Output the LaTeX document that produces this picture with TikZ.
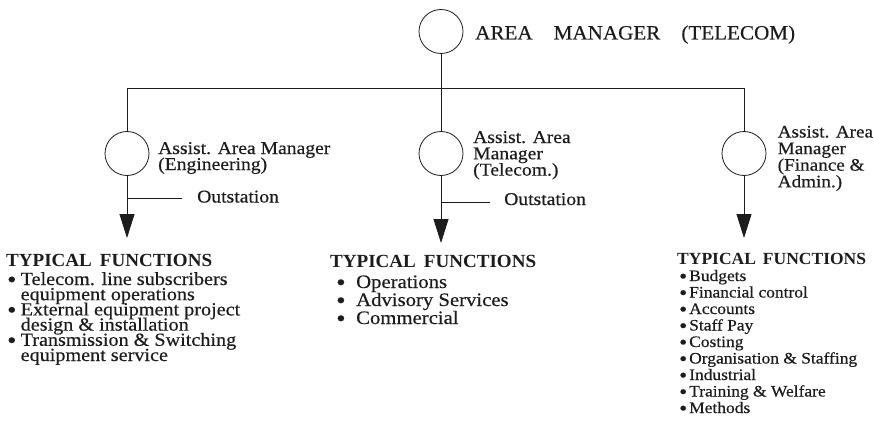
\documentclass[tikz,border=0pt]{standalone}
\usepackage{fontspec}
\usepackage{graphicx}
\setmainfont{Liberation Serif}
\newfontfamily\titlefont[FakeStretch=1.04,FakeBold=0.4]{Liberation Serif}
\newfontfamily\bodyfont[FakeStretch=1.09,FakeBold=0.4]{Liberation Serif}
\newfontfamily\headfont[FakeStretch=1.03]{Liberation Serif}
\usetikzlibrary{arrows.meta}

% a block of lines with a fixed baseline distance; its baseline is that of the first line
\newcommand\stackedlines[2]{\vtop{\baselineskip=#1\lineskiplimit=-\maxdimen\lineskip=0pt #2}}
% a list bullet sitting at mid x-height, taking no vertical room
\newcommand\itembullet[1]{\makebox[#1][l]{\smash{\raisebox{-0.13em}{\scalebox{1.3}{\textbullet}}}}}

\definecolor{ink}{HTML}{1C1C1C}

\tikzset{
  mgr/.style={circle, draw=ink, line width=0.8pt, minimum size=44pt, inner sep=0pt},
  txt/.style={anchor=base west, inner sep=0pt, text=ink},
  link/.style={draw=ink, line width=0.8pt},
  arr/.style={link, -{Triangle[length=24pt,width=15pt]}},
  labelfont/.style={font=\bodyfont\fontsize{18}{18}\selectfont},
  headfontstyle/.style={font=\headfont\bfseries\fontsize{18.5}{20}\selectfont},
}

\begin{document}
\begin{tikzpicture}[x=1pt,y=-1pt]
\useasboundingbox (0,0) rectangle (874,433);

% managers
\node[mgr] (area) at (441,31.5) {};
\node[mgr] (eng) at (127,153.5) {};
\node[mgr] (tel) at (441,153.5) {};
\node[mgr] (fin) at (744,153.5) {};

% junctions on the distribution bar
\coordinate (jl) at (127,88);
\coordinate (jc) at (441,88);
\coordinate (jr) at (744,88);

\draw[link] (area) -- (jc);
\draw[link] (jl) -- (jr);
\draw[link] (jl) -- (eng);
\draw[link] (jc) -- (tel);
\draw[link] (jr) -- (fin);

% arrows to the function lists
\coordinate (engtip) at (127,238);
\coordinate (teltip) at (441,243);
\coordinate (fintip) at (744,238);
\draw[arr] (eng) -- (engtip);
\draw[arr] (tel) -- (teltip);
\draw[arr] (fin) -- (fintip);

% outstation branches
\coordinate (engout) at (127,198);
\coordinate (engoutend) at (182,198);
\coordinate (telout) at (441,202);
\coordinate (teloutend) at (490,202);
\draw[link] (engout) -- (engoutend);
\draw[link] (telout) -- (teloutend);
\node[txt, labelfont] (engos) at (197,202.5) {Outstation};
\node[txt, labelfont] (telos) at (504,205) {Outstation};

% title
\node[txt, font=\titlefont\fontsize{20.3}{21}\selectfont] (title) at (475,39.5)
  {AREA\hspace{21pt}MANAGER\hspace{21pt}(TELECOM)};

% manager labels
\node[txt, labelfont] (englab) at (158,154)
  {\stackedlines{16pt}{\hbox{Assist. Area Manager}\hbox{(Engineering)}}};
\node[txt, labelfont] (tellab) at (473,143)
  {\stackedlines{16.3pt}{\hbox{Assist. Area}\hbox{Manager}\hbox{(Telecom.)}}};
\node[txt, font=\bodyfont\fontsize{17.6}{18}\selectfont] (finlab) at (777.5,137.5)
  {\stackedlines{16.6pt}{\hbox{Assist. Area}\hbox{Manager}\hbox{(Finance \&}\hbox{Admin.)}}};

% function lists
\node[txt, headfontstyle] (enghead) at (6,266) {TYPICAL\hspace{8pt}FUNCTIONS};
\node[txt, font=\bodyfont\fontsize{18.5}{18}\selectfont] (englist) at (7,285)
  {\stackedlines{15.2pt}{%
    \hbox{\itembullet{13.5pt}Telecom. line subscribers}%
    \hbox{\hspace{13.5pt}equipment operations}%
    \hbox{\itembullet{13.5pt}External equipment project}%
    \hbox{\hspace{13.5pt}design \& installation}%
    \hbox{\itembullet{13.5pt}Transmission \& Switching}%
    \hbox{\hspace{13.5pt}equipment service}}};

\node[txt, headfontstyle] (telhead) at (330,267) {TYPICAL\hspace{8pt}FUNCTIONS};
\node[txt, font=\bodyfont\fontsize{19}{18}\selectfont] (tellist) at (336,288)
  {\stackedlines{18pt}{%
    \hbox{\itembullet{20pt}Operations}%
    \hbox{\itembullet{20pt}Advisory Services}%
    \hbox{\itembullet{20pt}Commercial}}};

\node[txt, font=\headfont\bfseries\fontsize{17}{18}\selectfont] (finhead) at (677,264)
  {TYPICAL\hspace{7pt}FUNCTIONS};
\node[txt, font=\bodyfont\fontsize{16}{16}\selectfont] (finlist) at (679,281)
  {\stackedlines{16.5pt}{%
    \hbox{\itembullet{10pt}Budgets}%
    \hbox{\itembullet{10pt}Financial control}%
    \hbox{\itembullet{10pt}Accounts}%
    \hbox{\itembullet{10pt}Staff Pay}%
    \hbox{\itembullet{10pt}Costing}%
    \hbox{\itembullet{10pt}Organisation \& Staffing}%
    \hbox{\itembullet{10pt}Industrial}%
    \hbox{\itembullet{10pt}Training \& Welfare}%
    \hbox{\itembullet{10pt}Methods}}};
\end{tikzpicture}
\end{document}
